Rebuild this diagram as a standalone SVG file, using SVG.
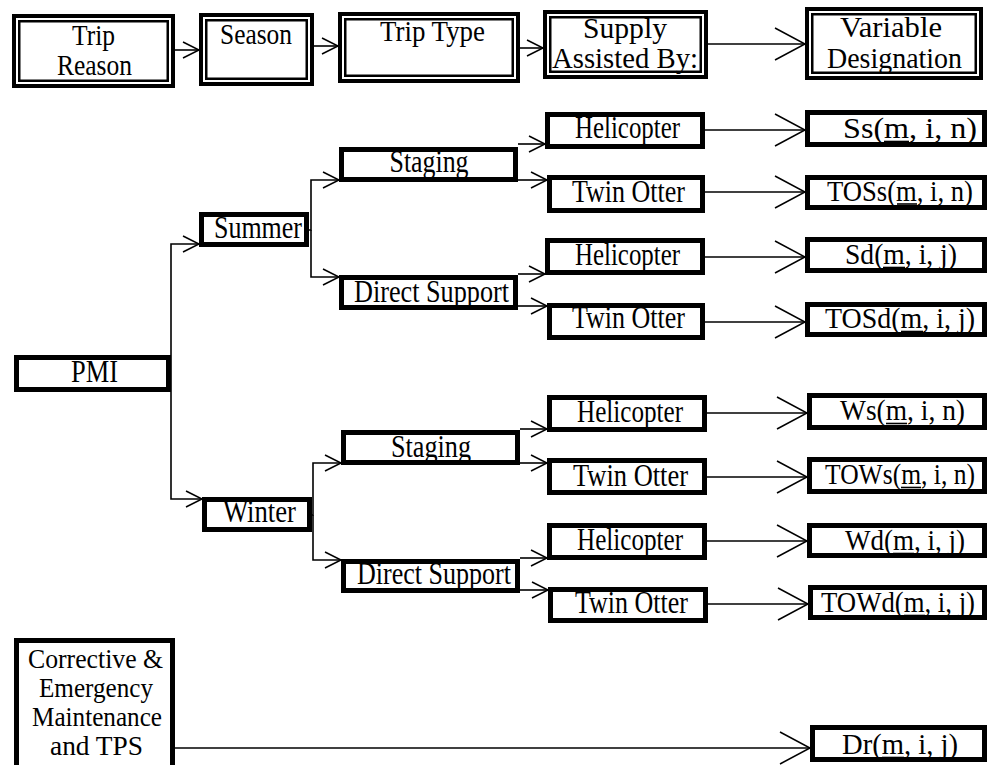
<svg xmlns="http://www.w3.org/2000/svg" width="992" height="765" viewBox="0 0 992 765">
<style>
  text { font-family: "Liberation Serif", "Times New Roman", serif; fill: #000; text-anchor: middle; }
  .h { font-size: 29px; }
  .t { font-size: 31px; }
  .v { font-size: 29px; }
  .cr { font-size: 28px; }
  .box { fill: #fff; stroke: #000; stroke-width: 5; }
  .outer { fill: #fff; stroke: #000; stroke-width: 4; }
  .inner { fill: none; stroke: #000; stroke-width: 2.5; }
  .c { fill: none; stroke: #000; stroke-width: 1.6; }
  .ul { stroke: #000; stroke-width: 1.6; }
</style>
<defs>
  <marker id="sm" markerUnits="userSpaceOnUse" markerWidth="18" markerHeight="18" refX="16" refY="8" orient="auto" overflow="visible">
    <path d="M0,0 L16,8 L0,16" fill="none" stroke="#000" stroke-width="1.5"/>
  </marker>
  <marker id="lg" markerUnits="userSpaceOnUse" markerWidth="32" markerHeight="34" refX="30" refY="16" orient="auto" overflow="visible">
    <path d="M0,0 L30,16 L0,32" fill="none" stroke="#000" stroke-width="1.5"/>
  </marker>
</defs>
<rect width="992" height="765" fill="#fff"/>

<g id="connectors">
  <line class="c" x1="175" y1="50" x2="199" y2="50" marker-end="url(#sm)"/>
  <line class="c" x1="314" y1="46" x2="338" y2="46" marker-end="url(#sm)"/>
  <line class="c" x1="520" y1="48" x2="543" y2="48" marker-end="url(#sm)"/>
  <line class="c" x1="708" y1="44" x2="805" y2="44" marker-end="url(#lg)"/>
  <polyline class="c" points="171,392 171,244 199,244" marker-end="url(#sm)"/>
  <polyline class="c" points="171,392 171,499 202,499" marker-end="url(#sm)"/>
  <polyline class="c" points="309,230 311,230 311,180 339,180" marker-end="url(#sm)"/>
  <polyline class="c" points="311,230 311,277 339,277" marker-end="url(#sm)"/>
  <polyline class="c" points="312,515 313,515 313,463 341,463" marker-end="url(#sm)"/>
  <polyline class="c" points="313,515 313,560 341,560" marker-end="url(#sm)"/>
  <line class="c" x1="518" y1="144" x2="545" y2="144" marker-end="url(#sm)"/>
  <line class="c" x1="518" y1="180" x2="547" y2="180" marker-end="url(#sm)"/>
  <line class="c" x1="518" y1="274" x2="545" y2="274" marker-end="url(#sm)"/>
  <line class="c" x1="518" y1="306" x2="547" y2="306" marker-end="url(#sm)"/>
  <line class="c" x1="520" y1="429" x2="547" y2="429" marker-end="url(#sm)"/>
  <line class="c" x1="520" y1="463" x2="547" y2="463" marker-end="url(#sm)"/>
  <line class="c" x1="520" y1="558" x2="547" y2="558" marker-end="url(#sm)"/>
  <line class="c" x1="520" y1="590" x2="548" y2="590" marker-end="url(#sm)"/>
  <line class="c" x1="705" y1="130" x2="805" y2="130" marker-end="url(#lg)"/>
  <line class="c" x1="705" y1="192" x2="805" y2="192" marker-end="url(#lg)"/>
  <line class="c" x1="705" y1="257" x2="805" y2="257" marker-end="url(#lg)"/>
  <line class="c" x1="705" y1="322" x2="805" y2="322" marker-end="url(#lg)"/>
  <line class="c" x1="707" y1="413" x2="807" y2="413" marker-end="url(#lg)"/>
  <line class="c" x1="707" y1="477" x2="807" y2="477" marker-end="url(#lg)"/>
  <line class="c" x1="707" y1="541" x2="807" y2="541" marker-end="url(#lg)"/>
  <line class="c" x1="708" y1="604" x2="808" y2="604" marker-end="url(#lg)"/>
  <line class="c" x1="175" y1="748" x2="810" y2="748" marker-end="url(#lg)"/>
</g>

<g id="hdr-trip-reason">
  <rect class="outer" x="14" y="16" width="159" height="70"/>
  <rect class="inner" x="19.25" y="21.25" width="148.5" height="59.5"/>
  <text class="h" x="93.5" y="45" textLength="43" lengthAdjust="spacingAndGlyphs">Trip</text>
  <text class="h" x="94.5" y="75" textLength="75" lengthAdjust="spacingAndGlyphs">Reason</text>
</g>
<g id="hdr-season">
  <rect class="outer" x="201" y="15" width="111" height="69"/>
  <rect class="inner" x="206.25" y="20.25" width="100.5" height="58.5"/>
  <text class="h" x="256" y="44" textLength="72" lengthAdjust="spacingAndGlyphs">Season</text>
</g>
<g id="hdr-trip-type">
  <rect class="outer" x="340" y="14" width="178" height="67"/>
  <rect class="inner" x="345.25" y="19.25" width="167.5" height="56.5"/>
  <text class="h" x="432.5" y="41" textLength="105" lengthAdjust="spacingAndGlyphs">Trip Type</text>
</g>
<g id="hdr-supply">
  <rect class="outer" x="545" y="12" width="161" height="65"/>
  <rect class="inner" x="550.25" y="17.25" width="150.5" height="54.5"/>
  <text class="h" x="625" y="38" textLength="84" lengthAdjust="spacingAndGlyphs">Supply</text>
  <text class="h" x="625" y="68" textLength="146" lengthAdjust="spacingAndGlyphs">Assisted By:</text>
</g>
<g id="hdr-variable">
  <rect class="outer" x="807" y="9" width="174" height="69"/>
  <rect class="inner" x="812.25" y="14.25" width="163.5" height="58.5"/>
  <text class="h" x="891" y="37" textLength="102" lengthAdjust="spacingAndGlyphs">Variable</text>
  <text class="h" x="894.5" y="68" textLength="135" lengthAdjust="spacingAndGlyphs">Designation</text>
</g>

<g id="pmi">
  <rect class="box" x="16.5" y="357.5" width="152" height="32"/>
  <text class="t" x="94.5" y="382" textLength="47" lengthAdjust="spacingAndGlyphs">PMI</text>
</g>
<g id="summer">
  <rect class="box" x="201.5" y="214.5" width="105" height="30"/>
  <text class="t" x="258" y="238" textLength="88" lengthAdjust="spacingAndGlyphs">Summer</text>
</g>
<g id="winter">
  <rect class="box" x="204.5" y="499.5" width="105" height="30"/>
  <text class="t" x="259.5" y="522" textLength="73" lengthAdjust="spacingAndGlyphs">Winter</text>
</g>
<g id="summer-staging">
  <rect class="box" x="341.5" y="149.5" width="174" height="30"/>
  <text class="t" x="429" y="172" textLength="79" lengthAdjust="spacingAndGlyphs">Staging</text>
</g>
<g id="summer-direct">
  <rect class="box" x="341.5" y="277.5" width="174" height="30"/>
  <text class="t" x="431.5" y="302" textLength="155" lengthAdjust="spacingAndGlyphs">Direct Support</text>
</g>
<g id="winter-staging">
  <rect class="box" x="343.5" y="432.5" width="174" height="30"/>
  <text class="t" x="431" y="457" textLength="80" lengthAdjust="spacingAndGlyphs">Staging</text>
</g>
<g id="winter-direct">
  <rect class="box" x="343.5" y="561.5" width="174" height="29"/>
  <text class="t" x="434" y="584" textLength="154" lengthAdjust="spacingAndGlyphs">Direct Support</text>
</g>

<g id="ss-heli">
  <rect class="box" x="547.5" y="114.5" width="155" height="32"/>
  <text class="t" x="627.5" y="138" textLength="105" lengthAdjust="spacingAndGlyphs">Helicopter</text>
</g>
<g id="ss-otter">
  <rect class="box" x="549.5" y="177.5" width="153" height="33"/>
  <text class="t" x="628.5" y="202" textLength="113" lengthAdjust="spacingAndGlyphs">Twin Otter</text>
</g>
<g id="sd-heli">
  <rect class="box" x="547.5" y="240.5" width="155" height="32"/>
  <text class="t" x="627.5" y="265" textLength="105" lengthAdjust="spacingAndGlyphs">Helicopter</text>
</g>
<g id="sd-otter">
  <rect class="box" x="549.5" y="305.5" width="153" height="32"/>
  <text class="t" x="628.5" y="328" textLength="113" lengthAdjust="spacingAndGlyphs">Twin Otter</text>
</g>
<g id="ws-heli">
  <rect class="box" x="549.5" y="397.5" width="155" height="32"/>
  <text class="t" x="630" y="422" textLength="106" lengthAdjust="spacingAndGlyphs">Helicopter</text>
</g>
<g id="ws-otter">
  <rect class="box" x="549.5" y="460.5" width="155" height="32"/>
  <text class="t" x="630.5" y="486" textLength="115" lengthAdjust="spacingAndGlyphs">Twin Otter</text>
</g>
<g id="wd-heli">
  <rect class="box" x="549.5" y="525.5" width="155" height="32"/>
  <text class="t" x="630" y="550" textLength="106" lengthAdjust="spacingAndGlyphs">Helicopter</text>
</g>
<g id="wd-otter">
  <rect class="box" x="550.5" y="589.5" width="155" height="31"/>
  <text class="t" x="631.5" y="613" textLength="113" lengthAdjust="spacingAndGlyphs">Twin Otter</text>
</g>

<g id="var-ss">
  <rect class="box" x="807.5" y="112.5" width="177" height="32"/>
  <text class="v" x="910" y="138" textLength="134" lengthAdjust="spacingAndGlyphs">Ss(m, i, n)</text>
  <line class="ul" x1="884" y1="141.5" x2="909" y2="141.5"/>
</g>
<g id="var-toss">
  <rect class="box" x="807.5" y="177.5" width="177" height="30"/>
  <text class="v" x="900" y="201" textLength="146" lengthAdjust="spacingAndGlyphs">TOSs(m, i, n)</text>
  <line class="ul" x1="897" y1="204" x2="917" y2="204"/>
</g>
<g id="var-sd">
  <rect class="box" x="807.5" y="239.5" width="177" height="31"/>
  <text class="v" x="901" y="264" textLength="112" lengthAdjust="spacingAndGlyphs">Sd(m, i, j)</text>
  <line class="ul" x1="883" y1="267.5" x2="905" y2="267.5"/>
</g>
<g id="var-tosd">
  <rect class="box" x="807.5" y="304.5" width="177" height="30"/>
  <text class="v" x="900" y="328" textLength="150" lengthAdjust="spacingAndGlyphs">TOSd(m, i, j)</text>
  <line class="ul" x1="901" y1="331.5" x2="923" y2="331.5"/>
</g>
<g id="var-ws">
  <rect class="box" x="809.5" y="395.5" width="175" height="32"/>
  <text class="v" x="902.5" y="420" textLength="125" lengthAdjust="spacingAndGlyphs">Ws(m, i, n)</text>
  <line class="ul" x1="886" y1="423.5" x2="907" y2="423.5"/>
</g>
<g id="var-tows">
  <rect class="box" x="809.5" y="459.5" width="175" height="32"/>
  <text class="v" x="900" y="484" textLength="150" lengthAdjust="spacingAndGlyphs">TOWs(m, i, n)</text>
  <line class="ul" x1="901" y1="487.5" x2="921" y2="487.5"/>
</g>
<g id="var-wd">
  <rect class="box" x="809.5" y="525.5" width="175" height="30"/>
  <text class="v" x="905" y="550" textLength="120" lengthAdjust="spacingAndGlyphs">Wd(m, i, j)</text>
  <line class="ul" x1="893" y1="553.5" x2="914" y2="553.5"/>
</g>
<g id="var-towd">
  <rect class="box" x="810.5" y="587.5" width="174" height="30"/>
  <text class="v" x="898" y="612" textLength="154" lengthAdjust="spacingAndGlyphs">TOWd(m, i, j)</text>
  <line class="ul" x1="904" y1="615.5" x2="925" y2="615.5"/>
</g>
<g id="var-dr">
  <rect class="box" x="812.5" y="727.5" width="172" height="32"/>
  <text class="v" x="900" y="754" textLength="116" lengthAdjust="spacingAndGlyphs">Dr(m, i, j)</text>
  <line class="ul" x1="882" y1="757.5" x2="904" y2="757.5"/>
</g>

<g id="corrective">
  <rect class="box" x="16.5" y="640.5" width="156" height="130"/>
  <text class="cr" x="95.5" y="668" textLength="135" lengthAdjust="spacingAndGlyphs">Corrective &amp;</text>
  <text class="cr" x="96" y="697" textLength="114" lengthAdjust="spacingAndGlyphs">Emergency</text>
  <text class="cr" x="97" y="726" textLength="130" lengthAdjust="spacingAndGlyphs">Maintenance</text>
  <text class="cr" x="96.5" y="755" textLength="93" lengthAdjust="spacingAndGlyphs">and TPS</text>
</g>
</svg>
